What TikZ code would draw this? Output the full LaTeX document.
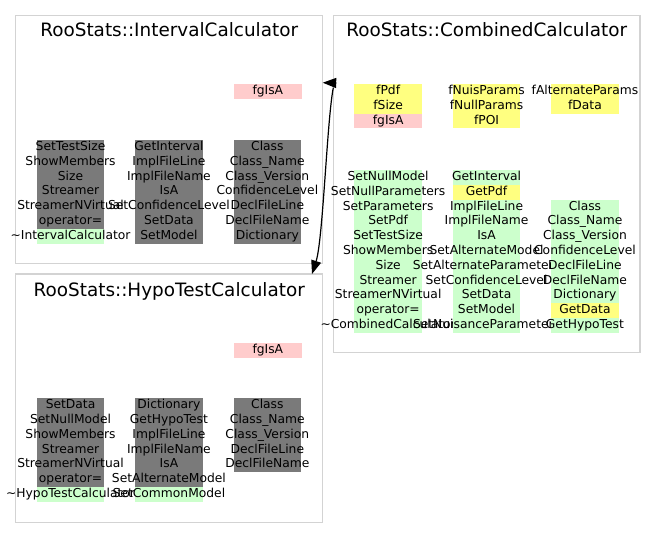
\documentclass[tikz,border=0pt]{standalone}
\usepackage{fontspec}
\setmainfont{DejaVu Sans}
\usetikzlibrary{arrows.meta}
\definecolor{frame}{HTML}{D3D3D3}
\definecolor{cgray}{HTML}{7A7A7A}
\definecolor{cgreen}{HTML}{CCFFCC}
\definecolor{cyellow}{HTML}{FFFF80}
\definecolor{cpink}{HTML}{FFCCCC}
\tikzset{classbox/.style={draw=frame,line width=1.3pt,inner sep=0pt,outer sep=0pt,anchor=north west}}
\tikzset{classname/.style={font=\fontsize{18.4}{22}\selectfont,anchor=base,inner sep=0pt}}
\tikzset{member/.style={inner sep=0pt,outer sep=0pt,minimum width=67.7pt,minimum height=14.8pt,
                        text height=9.3pt,text depth=3.2pt,
                        execute at begin node={\hbox to 0pt\bgroup\hss},
                        execute at end node={\hss\egroup}}}
\tikzset{inh/.style={member,fill=cgray}}
\tikzset{pub/.style={member,fill=cgreen}}
\tikzset{prot/.style={member,fill=cyellow}}
\tikzset{priv/.style={member,fill=cpink}}
\tikzset{members/.style={inner sep=0pt,outer sep=0pt,row sep=0pt,column sep=30.7pt,anchor=north west}}
\tikzset{inherit/.style={draw,line width=1.2pt,-{Triangle[length=13.5pt,width=10pt]}}}

\begin{document}
\begin{tikzpicture}[x=1pt,y=-1pt,font=\fontsize{12.3}{14.8}\selectfont]
  \useasboundingbox (0,0) rectangle (656,549);

  % The three class frames with their names
  \node[classbox,minimum width=307pt,minimum height=247.6pt] (ic) at (15.7,15.7) {};
  \node[classbox,minimum width=306.7pt,minimum height=337pt] (cc) at (333.3,15.7) {};
  \node[classbox,minimum width=307pt,minimum height=248.3pt] (ht) at (15.7,274) {};
  \node[classname] (ic_t) at ([yshift=-21pt]ic.north) {RooStats::IntervalCalculator};
  \node[classname] (cc_t) at ([yshift=-21pt]cc.north) {RooStats::CombinedCalculator};
  \node[classname] (ht_t) at ([yshift=-22pt]ht.north) {RooStats::HypoTestCalculator};

  % IntervalCalculator: data member and methods
  \node[priv,anchor=north west] (ic_a) at (234,84) {fgIsA};
  \matrix (ic_m) [members] at (36.7,140) {
    \node[inh]{SetTestSize};      & \node[inh]{GetInterval};        & \node[inh]{Class};           \\
    \node[inh]{ShowMembers};      & \node[inh]{ImplFileLine};       & \node[inh]{Class\_Name};     \\
    \node[inh]{Size};             & \node[inh]{ImplFileName};       & \node[inh]{Class\_Version};  \\
    \node[inh]{Streamer};         & \node[inh]{IsA};                & \node[inh]{ConfidenceLevel}; \\
    \node[inh]{StreamerNVirtual}; & \node[inh]{SetConfidenceLevel}; & \node[inh]{DeclFileLine};    \\
    \node[inh]{operator=};        & \node[inh]{SetData};            & \node[inh]{DeclFileName};    \\
    \node[pub]{\textasciitilde IntervalCalculator}; & \node[inh]{SetModel}; & \node[inh]{Dictionary}; \\
  };

  % CombinedCalculator: data members
  \matrix (cc_a) [members] at (354.3,84) {
    \node[prot]{fPdf};  & \node[prot]{fNuisParams}; & \node[prot]{fAlternateParams}; \\
    \node[prot]{fSize}; & \node[prot]{fNullParams}; & \node[prot]{fData};            \\
    \node[priv]{fgIsA}; & \node[prot]{fPOI};        &                                \\
  };
  % CombinedCalculator: methods
  \matrix (cc_m) [members] at (354.3,170) {
    \node[pub]{SetNullModel};      & \node[pub]{GetInterval};            &                             \\
    \node[pub]{SetNullParameters}; & \node[prot]{GetPdf};                &                             \\
    \node[pub]{SetParameters};     & \node[pub]{ImplFileLine};           & \node[pub]{Class};           \\
    \node[pub]{SetPdf};            & \node[pub]{ImplFileName};           & \node[pub]{Class\_Name};     \\
    \node[pub]{SetTestSize};       & \node[pub]{IsA};                    & \node[pub]{Class\_Version};  \\
    \node[pub]{ShowMembers};       & \node[pub]{SetAlternateModel};      & \node[pub]{ConfidenceLevel}; \\
    \node[pub]{Size};              & \node[pub]{SetAlternateParameters}; & \node[pub]{DeclFileLine};    \\
    \node[pub]{Streamer};          & \node[pub]{SetConfidenceLevel};     & \node[pub]{DeclFileName};    \\
    \node[pub]{StreamerNVirtual};  & \node[pub]{SetData};                & \node[pub]{Dictionary};      \\
    \node[pub]{operator=};         & \node[pub]{SetModel};               & \node[prot]{GetData};        \\
    \node[pub]{\textasciitilde CombinedCalculator}; & \node[pub]{SetNuisanceParameters}; & \node[pub]{GetHypoTest}; \\
  };

  % HypoTestCalculator: data member and methods
  \node[priv,anchor=north west] (ht_a) at (234,342.7) {fgIsA};
  \matrix (ht_m) [members] at (36.7,398.3) {
    \node[inh]{SetData};          & \node[inh]{Dictionary};        & \node[inh]{Class};          \\
    \node[inh]{SetNullModel};     & \node[inh]{GetHypoTest};       & \node[inh]{Class\_Name};    \\
    \node[inh]{ShowMembers};      & \node[inh]{ImplFileLine};      & \node[inh]{Class\_Version}; \\
    \node[inh]{Streamer};         & \node[inh]{ImplFileName};      & \node[inh]{DeclFileLine};   \\
    \node[inh]{StreamerNVirtual}; & \node[inh]{IsA};               & \node[inh]{DeclFileName};   \\
    \node[inh]{operator=};        & \node[inh]{SetAlternateModel}; &                             \\
    \node[pub]{\textasciitilde HypoTestCalculator}; & \node[pub]{SetCommonModel}; &             \\
  };

  % Inheritance: CombinedCalculator derives from both base classes
  \draw[inherit] ([xshift=3pt,yshift=-67.3pt]cc.north west) -- ([yshift=-67pt]ic.north east);
  \draw[inherit] ([yshift=-72pt]cc.north west) .. controls (327,120) and (323,240) .. ([xshift=-10.7pt]ht.north east);
\end{tikzpicture}
\end{document}
